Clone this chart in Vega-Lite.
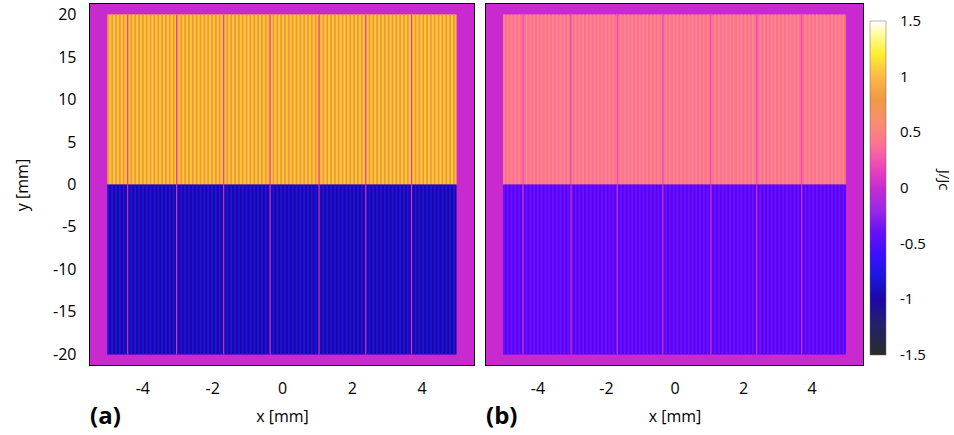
{
"$schema": "https://vega.github.io/schema/vega-lite/v6.json",
"padding": {"left": 13, "top": 3, "right": 0, "bottom": 0},
"datasets": {
"blocks": [
{"p":"a","k":"bg","x":-5.5,"x2":5.5,"y":-21.25,"y2":21.25,"j":0},
{"p":"a","k":"bg","x":-5,"x2":5,"y":0,"y2":20,"j":1.1},
{"p":"a","k":"bg","x":-5,"x2":5,"y":-20,"y2":0,"j":-1.0},
{"p":"b","k":"bg","x":-5.5,"x2":5.5,"y":-21.25,"y2":21.25,"j":0},
{"p":"b","k":"bg","x":-5,"x2":5,"y":0,"y2":20,"j":0.38},
{"p":"b","k":"bg","x":-5,"x2":5,"y":-20,"y2":0,"j":-0.45},
{"p":"a","k":"gap","x":-4.435,"x2":-4.405,"y":-20,"y2":20,"j":0.1},
{"p":"a","k":"gap","x":-3.035,"x2":-3.005,"y":-20,"y2":20,"j":0.1},
{"p":"a","k":"gap","x":-1.685,"x2":-1.655,"y":-20,"y2":20,"j":0.1},
{"p":"a","k":"gap","x":-0.355,"x2":-0.325,"y":-20,"y2":20,"j":0.1},
{"p":"a","k":"gap","x":1.045,"x2":1.075,"y":-20,"y2":20,"j":0.1},
{"p":"a","k":"gap","x":2.385,"x2":2.415,"y":-20,"y2":20,"j":0.1},
{"p":"a","k":"gap","x":3.695,"x2":3.725,"y":-20,"y2":20,"j":0.1},
{"p":"b","k":"gap","x":-4.435,"x2":-4.405,"y":-20,"y2":20,"j":0.1},
{"p":"b","k":"gap","x":-3.035,"x2":-3.005,"y":-20,"y2":20,"j":0.1},
{"p":"b","k":"gap","x":-1.685,"x2":-1.655,"y":-20,"y2":20,"j":0.1},
{"p":"b","k":"gap","x":-0.355,"x2":-0.325,"y":-20,"y2":20,"j":0.1},
{"p":"b","k":"gap","x":1.045,"x2":1.075,"y":-20,"y2":20,"j":0.1},
{"p":"b","k":"gap","x":2.385,"x2":2.415,"y":-20,"y2":20,"j":0.1},
{"p":"b","k":"gap","x":3.695,"x2":3.725,"y":-20,"y2":20,"j":0.1}
],
"cols": [
{"x":-5.00,"x2":-4.95,"at":0.78,"ab":-0.8,"bt":0.5,"bb":-0.38},
{"x":-4.89,"x2":-4.84,"at":0.78,"ab":-0.8,"bt":0.5,"bb":-0.38},
{"x":-4.78,"x2":-4.73,"at":0.78,"ab":-0.8,"bt":0.5,"bb":-0.38},
{"x":-4.67,"x2":-4.62,"at":0.78,"ab":-0.8,"bt":0.5,"bb":-0.38},
{"x":-4.56,"x2":-4.51,"at":0.78,"ab":-0.8,"bt":0.5,"bb":-0.38},
{"x":-4.45,"x2":-4.40,"at":0.78,"ab":-0.8,"bt":0.5,"bb":-0.38},
{"x":-4.34,"x2":-4.29,"at":0.78,"ab":-0.8,"bt":0.5,"bb":-0.38},
{"x":-4.23,"x2":-4.18,"at":0.78,"ab":-0.8,"bt":0.5,"bb":-0.38},
{"x":-4.12,"x2":-4.07,"at":0.78,"ab":-0.8,"bt":0.5,"bb":-0.38},
{"x":-4.01,"x2":-3.96,"at":0.78,"ab":-0.8,"bt":0.5,"bb":-0.38},
{"x":-3.90,"x2":-3.85,"at":0.78,"ab":-0.8,"bt":0.5,"bb":-0.38},
{"x":-3.79,"x2":-3.74,"at":0.78,"ab":-0.8,"bt":0.5,"bb":-0.38},
{"x":-3.68,"x2":-3.63,"at":0.78,"ab":-0.8,"bt":0.5,"bb":-0.38},
{"x":-3.57,"x2":-3.52,"at":0.78,"ab":-0.8,"bt":0.5,"bb":-0.38},
{"x":-3.46,"x2":-3.41,"at":0.78,"ab":-0.8,"bt":0.5,"bb":-0.38},
{"x":-3.35,"x2":-3.30,"at":0.78,"ab":-0.8,"bt":0.5,"bb":-0.38},
{"x":-3.24,"x2":-3.19,"at":0.78,"ab":-0.8,"bt":0.5,"bb":-0.38},
{"x":-3.13,"x2":-3.08,"at":0.78,"ab":-0.8,"bt":0.5,"bb":-0.38},
{"x":-3.02,"x2":-2.97,"at":0.78,"ab":-0.8,"bt":0.5,"bb":-0.38},
{"x":-2.91,"x2":-2.86,"at":0.78,"ab":-0.8,"bt":0.5,"bb":-0.38},
{"x":-2.80,"x2":-2.75,"at":0.78,"ab":-0.8,"bt":0.5,"bb":-0.38},
{"x":-2.69,"x2":-2.64,"at":0.78,"ab":-0.8,"bt":0.5,"bb":-0.38},
{"x":-2.58,"x2":-2.53,"at":0.78,"ab":-0.8,"bt":0.5,"bb":-0.38},
{"x":-2.47,"x2":-2.42,"at":0.78,"ab":-0.8,"bt":0.5,"bb":-0.38},
{"x":-2.36,"x2":-2.31,"at":0.78,"ab":-0.8,"bt":0.5,"bb":-0.38},
{"x":-2.25,"x2":-2.20,"at":0.78,"ab":-0.8,"bt":0.5,"bb":-0.38},
{"x":-2.14,"x2":-2.09,"at":0.78,"ab":-0.8,"bt":0.5,"bb":-0.38},
{"x":-2.03,"x2":-1.98,"at":0.78,"ab":-0.8,"bt":0.5,"bb":-0.38},
{"x":-1.92,"x2":-1.87,"at":0.78,"ab":-0.8,"bt":0.5,"bb":-0.38},
{"x":-1.81,"x2":-1.76,"at":0.78,"ab":-0.8,"bt":0.5,"bb":-0.38},
{"x":-1.70,"x2":-1.65,"at":0.78,"ab":-0.8,"bt":0.5,"bb":-0.38},
{"x":-1.59,"x2":-1.54,"at":0.78,"ab":-0.8,"bt":0.5,"bb":-0.38},
{"x":-1.48,"x2":-1.43,"at":0.78,"ab":-0.8,"bt":0.5,"bb":-0.38},
{"x":-1.37,"x2":-1.32,"at":0.78,"ab":-0.8,"bt":0.5,"bb":-0.38},
{"x":-1.26,"x2":-1.21,"at":0.78,"ab":-0.8,"bt":0.5,"bb":-0.38},
{"x":-1.15,"x2":-1.10,"at":0.78,"ab":-0.8,"bt":0.5,"bb":-0.38},
{"x":-1.04,"x2":-0.99,"at":0.78,"ab":-0.8,"bt":0.5,"bb":-0.38},
{"x":-0.93,"x2":-0.88,"at":0.78,"ab":-0.8,"bt":0.5,"bb":-0.38},
{"x":-0.82,"x2":-0.77,"at":0.78,"ab":-0.8,"bt":0.5,"bb":-0.38},
{"x":-0.71,"x2":-0.66,"at":0.78,"ab":-0.8,"bt":0.5,"bb":-0.38},
{"x":-0.60,"x2":-0.55,"at":0.78,"ab":-0.8,"bt":0.5,"bb":-0.38},
{"x":-0.49,"x2":-0.44,"at":0.78,"ab":-0.8,"bt":0.5,"bb":-0.38},
{"x":-0.38,"x2":-0.33,"at":0.78,"ab":-0.8,"bt":0.5,"bb":-0.38},
{"x":-0.27,"x2":-0.22,"at":0.78,"ab":-0.8,"bt":0.5,"bb":-0.38},
{"x":-0.16,"x2":-0.11,"at":0.78,"ab":-0.8,"bt":0.5,"bb":-0.38},
{"x":-0.05,"x2":0.00,"at":0.78,"ab":-0.8,"bt":0.5,"bb":-0.38},
{"x":0.06,"x2":0.11,"at":0.78,"ab":-0.8,"bt":0.5,"bb":-0.38},
{"x":0.17,"x2":0.22,"at":0.78,"ab":-0.8,"bt":0.5,"bb":-0.38},
{"x":0.28,"x2":0.33,"at":0.78,"ab":-0.8,"bt":0.5,"bb":-0.38},
{"x":0.39,"x2":0.44,"at":0.78,"ab":-0.8,"bt":0.5,"bb":-0.38},
{"x":0.50,"x2":0.55,"at":0.78,"ab":-0.8,"bt":0.5,"bb":-0.38},
{"x":0.61,"x2":0.66,"at":0.78,"ab":-0.8,"bt":0.5,"bb":-0.38},
{"x":0.72,"x2":0.77,"at":0.78,"ab":-0.8,"bt":0.5,"bb":-0.38},
{"x":0.83,"x2":0.88,"at":0.78,"ab":-0.8,"bt":0.5,"bb":-0.38},
{"x":0.94,"x2":0.99,"at":0.78,"ab":-0.8,"bt":0.5,"bb":-0.38},
{"x":1.05,"x2":1.10,"at":0.78,"ab":-0.8,"bt":0.5,"bb":-0.38},
{"x":1.16,"x2":1.21,"at":0.78,"ab":-0.8,"bt":0.5,"bb":-0.38},
{"x":1.27,"x2":1.32,"at":0.78,"ab":-0.8,"bt":0.5,"bb":-0.38},
{"x":1.38,"x2":1.43,"at":0.78,"ab":-0.8,"bt":0.5,"bb":-0.38},
{"x":1.49,"x2":1.54,"at":0.78,"ab":-0.8,"bt":0.5,"bb":-0.38},
{"x":1.60,"x2":1.65,"at":0.78,"ab":-0.8,"bt":0.5,"bb":-0.38},
{"x":1.71,"x2":1.76,"at":0.78,"ab":-0.8,"bt":0.5,"bb":-0.38},
{"x":1.82,"x2":1.87,"at":0.78,"ab":-0.8,"bt":0.5,"bb":-0.38},
{"x":1.93,"x2":1.98,"at":0.78,"ab":-0.8,"bt":0.5,"bb":-0.38},
{"x":2.04,"x2":2.09,"at":0.78,"ab":-0.8,"bt":0.5,"bb":-0.38},
{"x":2.15,"x2":2.20,"at":0.78,"ab":-0.8,"bt":0.5,"bb":-0.38},
{"x":2.26,"x2":2.31,"at":0.78,"ab":-0.8,"bt":0.5,"bb":-0.38},
{"x":2.37,"x2":2.42,"at":0.78,"ab":-0.8,"bt":0.5,"bb":-0.38},
{"x":2.48,"x2":2.53,"at":0.78,"ab":-0.8,"bt":0.5,"bb":-0.38},
{"x":2.59,"x2":2.64,"at":0.78,"ab":-0.8,"bt":0.5,"bb":-0.38},
{"x":2.70,"x2":2.75,"at":0.78,"ab":-0.8,"bt":0.5,"bb":-0.38},
{"x":2.81,"x2":2.86,"at":0.78,"ab":-0.8,"bt":0.5,"bb":-0.38},
{"x":2.92,"x2":2.97,"at":0.78,"ab":-0.8,"bt":0.5,"bb":-0.38},
{"x":3.03,"x2":3.08,"at":0.78,"ab":-0.8,"bt":0.5,"bb":-0.38},
{"x":3.14,"x2":3.19,"at":0.78,"ab":-0.8,"bt":0.5,"bb":-0.38},
{"x":3.25,"x2":3.30,"at":0.78,"ab":-0.8,"bt":0.5,"bb":-0.38},
{"x":3.36,"x2":3.41,"at":0.78,"ab":-0.8,"bt":0.5,"bb":-0.38},
{"x":3.47,"x2":3.52,"at":0.78,"ab":-0.8,"bt":0.5,"bb":-0.38},
{"x":3.58,"x2":3.63,"at":0.78,"ab":-0.8,"bt":0.5,"bb":-0.38},
{"x":3.69,"x2":3.74,"at":0.78,"ab":-0.8,"bt":0.5,"bb":-0.38},
{"x":3.80,"x2":3.85,"at":0.78,"ab":-0.8,"bt":0.5,"bb":-0.38},
{"x":3.91,"x2":3.96,"at":0.78,"ab":-0.8,"bt":0.5,"bb":-0.38},
{"x":4.02,"x2":4.07,"at":0.78,"ab":-0.8,"bt":0.5,"bb":-0.38},
{"x":4.13,"x2":4.18,"at":0.78,"ab":-0.8,"bt":0.5,"bb":-0.38},
{"x":4.24,"x2":4.29,"at":0.78,"ab":-0.8,"bt":0.5,"bb":-0.38},
{"x":4.35,"x2":4.40,"at":0.78,"ab":-0.8,"bt":0.5,"bb":-0.38},
{"x":4.46,"x2":4.51,"at":0.78,"ab":-0.8,"bt":0.5,"bb":-0.38},
{"x":4.57,"x2":4.62,"at":0.78,"ab":-0.8,"bt":0.5,"bb":-0.38},
{"x":4.68,"x2":4.73,"at":0.78,"ab":-0.8,"bt":0.5,"bb":-0.38},
{"x":4.79,"x2":4.84,"at":0.78,"ab":-0.8,"bt":0.5,"bb":-0.38},
{"x":4.90,"x2":4.95,"at":0.78,"ab":-0.8,"bt":0.5,"bb":-0.38}
]
},
"hconcat": [
{
"width": 384, "height": 361,
"title": {"text": "(a)", "orient": "bottom", "anchor": "start", "frame": "group", "fontSize": 24, "fontWeight": "bold", "offset": -19},
"encoding": {
"x": {"field": "x", "type": "quantitative", "scale": {"domain": [-5.5, 5.5], "nice": false, "zero": false}, "title": "x [mm]", "axis": {"tickCount": 5, "labelExpr": "''+datum.value"}},
"x2": {"field": "x2"}
},
"layer": [
{"data": {"name": "blocks"}, "transform": [{"filter": "datum.p=='a' && datum.k=='bg'"}], "mark": "rect",
"encoding": {
"y": {"field": "y", "type": "quantitative", "scale": {"domain": [-21.25, 21.25], "nice": false, "zero": false}, "title": "y [mm]", "axis": {"tickCount": 9, "labelExpr": "''+datum.value"}},
"y2": {"field": "y2"},
"color": {"field": "j", "type": "quantitative", "scale": {"type":"linear","domain":[-1.5,-1.25,-1,-0.8,-0.6,-0.45,-0.38,-0.2,0,0.2,0.38,0.5,0.78,1,1.1,1.25,1.5],"range":["#2b2b2b","#242466","#1e06a6","#1a16e0","#3a10ff","#5a00ff","#6c14f4","#9a28e8","#c82ad0","#f048b8","#ff6e96","#ff8a86","#ee9642","#ffb848","#ffc832","#ffff30","#ffffff"],"interpolate":"rgb"}, "legend": {"title": "J/Jc", "values": [-1.5,-1,-0.5,0,0.5,1,1.5], "labelExpr": "''+datum.value", "labelOffset": 14, "encode": {"labels": {"update": {"baseline": {"value": "middle"}}}}}}
}},
{"data": {"name": "cols"}, "mark": "rect",
"encoding": {
"y": {"datum": 0, "type": "quantitative", "title": "y [mm]"},
"y2": {"datum": 20},
"color": {"field": "at", "type": "quantitative", "title": "J/Jc"}
}},
{"data": {"name": "cols"}, "mark": "rect",
"encoding": {
"y": {"datum": -20, "type": "quantitative", "title": "y [mm]"},
"y2": {"datum": 0},
"color": {"field": "ab", "type": "quantitative", "title": "J/Jc"}
}},
{"data": {"name": "blocks"}, "transform": [{"filter": "datum.p=='a' && datum.k=='gap'"}], "mark": "rect",
"encoding": {
"y": {"field": "y", "type": "quantitative", "title": "y [mm]"},
"y2": {"field": "y2"},
"color": {"field": "j", "type": "quantitative", "title": "J/Jc"}
}}
]
},
{
"width": 377, "height": 361,
"title": {"text": "(b)", "orient": "bottom", "anchor": "start", "frame": "group", "fontSize": 24, "fontWeight": "bold", "offset": -19},
"encoding": {
"x": {"field": "x", "type": "quantitative", "scale": {"domain": [-5.5, 5.5], "nice": false, "zero": false}, "title": "x [mm]", "axis": {"tickCount": 5, "labelExpr": "''+datum.value"}},
"x2": {"field": "x2"}
},
"layer": [
{"data": {"name": "blocks"}, "transform": [{"filter": "datum.p=='b' && datum.k=='bg'"}], "mark": "rect",
"encoding": {
"y": {"field": "y", "type": "quantitative", "scale": {"domain": [-21.25, 21.25], "nice": false, "zero": false}, "axis": null},
"y2": {"field": "y2"},
"color": {"field": "j", "type": "quantitative", "title": "J/Jc"}
}},
{"data": {"name": "cols"}, "mark": "rect",
"encoding": {
"y": {"datum": 0, "type": "quantitative", "axis": null},
"y2": {"datum": 20},
"color": {"field": "bt", "type": "quantitative", "title": "J/Jc"}
}},
{"data": {"name": "cols"}, "mark": "rect",
"encoding": {
"y": {"datum": -20, "type": "quantitative", "axis": null},
"y2": {"datum": 0},
"color": {"field": "bb", "type": "quantitative", "title": "J/Jc"}
}},
{"data": {"name": "blocks"}, "transform": [{"filter": "datum.p=='b' && datum.k=='gap'"}], "mark": "rect",
"encoding": {
"y": {"field": "y", "type": "quantitative", "axis": null},
"y2": {"field": "y2"},
"color": {"field": "j", "type": "quantitative", "title": "J/Jc"}
}}
]
}
],
"spacing": 10,
"resolve": {"scale": {"color": "shared"}},
"config": {
"font": "Open Sans",
"view": {"stroke": "#000", "strokeWidth": 2},
"axis": {"ticks": false, "domain": false, "grid": false, "labelFont": "Open Sans", "labelFontSize": 16, "labelColor": "#000", "titleFont": "Open Sans", "titleFontSize": 16, "titleFontWeight": "normal", "titleColor": "#000"},
"axisX": {"labelPadding": 15, "titlePadding": 12},
"axisY": {"labelPadding": 14, "titlePadding": 22},
"legend": {"orient": "right", "offset": -11, "padding": 17, "gradientLength": 334, "gradientThickness": 16, "labelFont": "Open Sans", "labelFontSize": 15, "labelColor": "#000", "labelOffset": 14, "labelBaseline": "middle", "titleOrient": "right", "titleAngle": 90, "titleAnchor": "middle", "titleFont": "Open Sans", "titleFontSize": 15, "titleFontWeight": "normal", "titleColor": "#000", "titlePadding": 10, "gradientStrokeColor": "#666", "gradientStrokeWidth": 0.5},
"title": {"font": "Open Sans", "color": "#000"}
}
}
